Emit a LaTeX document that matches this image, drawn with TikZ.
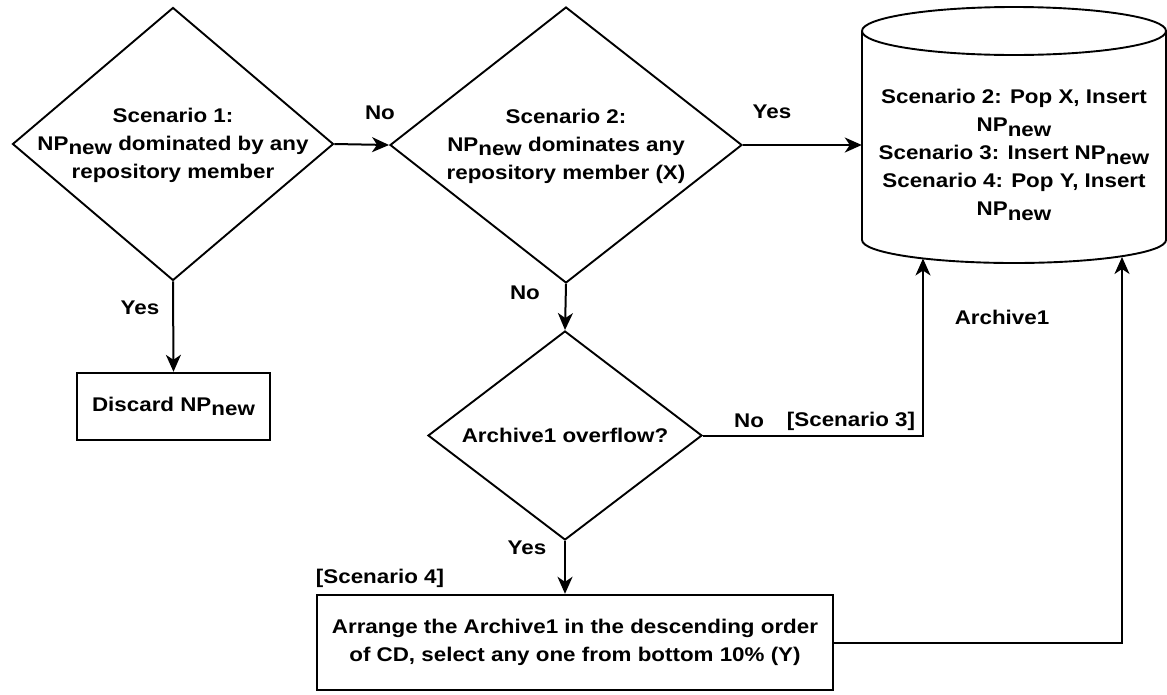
\documentclass[tikz,border=0pt]{standalone}
\usepackage{fontspec}
\setmainfont{Liberation Sans}[FakeStretch=1.13]
\usetikzlibrary{arrows.meta,shapes.geometric}
\newcommand{\NPn}{NP\raisebox{-4.5pt}{new}}
\begin{document}
\begin{tikzpicture}[x=1pt,y=-1pt,
  every node/.style={font=\fontsize{19.8}{28}\selectfont\bfseries, inner sep=0pt},
  dia/.style={diamond, draw, line width=1.9pt, inner sep=0pt},
  boxnode/.style={draw, line width=2.4pt, rectangle},
  shapeline/.style={line width=1.9pt},
  arr/.style={-{Stealth[length=17pt,width=15pt,inset=5pt]}, line width=2pt},
  txt/.style={align=center}]
\useasboundingbox (0,0) rectangle (1167,694);
% decision diamonds
\node[dia, minimum width=321pt, minimum height=273pt] (d1) at (173,144) {};
\node[txt] (t1) at (173,145) {Scenario 1:\\\NPn{} dominated by any\\repository member};
\node[dia, minimum width=352pt, minimum height=276pt] (d2) at (566,145) {};
\node[txt] (t2) at (566,146) {Scenario 2:\\\NPn{} dominates any\\repository member (X)};
\node[dia, minimum width=274pt, minimum height=209pt] (d3) at (565,435.5) {};
\node[txt] (t3) at (565,435) {Archive1 overflow?};
% boxes
\node[boxnode, minimum width=193pt, minimum height=67pt] (disc) at (173.5,406.5) {Discard \NPn};
\node[boxnode, minimum width=516pt, minimum height=95pt, txt] (box) at (575,642.5) {Arrange the Archive1 in the descending order\\of CD, select any one from bottom 10\% (Y)};
% cylinder
\node[minimum width=304pt, minimum height=256pt] (cyl) at (1014,135) {};
\draw[shapeline] (1014,31) ellipse [x radius=152pt, y radius=24pt];
\draw[shapeline] (862,31) -- (862,240) arc[start angle=180, end angle=360, x radius=152pt, y radius=23pt] -- (1166,31);
\node[txt] (ct) at (1014,155) {Scenario 2: Pop X, Insert\\\NPn\\Scenario 3: Insert \NPn\\Scenario 4: Pop Y, Insert\\\NPn};
\coordinate (c3) at (923,258.5);
\coordinate (c4) at (1122,257);
% connectors
\draw[arr] (d1.east) -- (d2.west);
\draw[arr] (d2.east) -- (d2.east -| cyl.west);
\draw[arr] (d1.south) -- (disc.north);
\draw[arr] (d2.south) -- (d3.north);
\draw[arr] (d3.south) -- (d3.south |- box.north);
\draw[arr] (d3.east) -- (d3.east -| c3) -- (c3);
\draw[arr] (box.east) -- (box.east -| c4) -- (c4);
% labels
\node (l1) at (380,113) {No};
\node (l2) at (772,112) {Yes};
\node (l3) at (140,308) {Yes};
\node (l4) at (525,293) {No};
\node (l5) at (749,421) {No};
\node (l6) at (851,421) {[Scenario 3]};
\node (l7) at (1002,317) {Archive1};
\node (l8) at (527,548) {Yes};
\node (l9) at (380,578) {[Scenario 4]};
\end{tikzpicture}
\end{document}
